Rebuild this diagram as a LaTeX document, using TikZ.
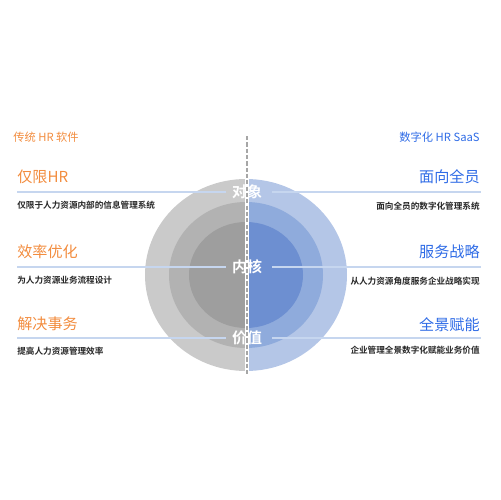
\documentclass[tikz,border=0pt]{standalone}
\usepackage{fontspec}
\setmainfont{Noto Sans CJK SC}
\newfontfamily\cjkbold{Noto Sans CJK SC Bold}
\usetikzlibrary{positioning}

\definecolor{hrorange}{HTML}{F28C3E}
\definecolor{saasblue}{HTML}{2E6BE6}
\definecolor{rulecol}{HTML}{C6D6EF}
\definecolor{grayA}{HTML}{CACACA}
\definecolor{grayB}{HTML}{B2B2B2}
\definecolor{grayC}{HTML}{9E9E9E}
\definecolor{blueA}{HTML}{B4C6E7}
\definecolor{blueB}{HTML}{8FABDC}
\definecolor{blueC}{HTML}{6D8FD1}

\tikzset{
  title/.style={font=\fontsize{6.4}{7}\selectfont, inner sep=0pt},
  head/.style={font=\fontsize{8.6}{10}\selectfont, inner sep=0pt},
  sub/.style={font=\cjkbold\fontsize{4.9}{6}\selectfont, inner sep=0pt, text=black!85},
  core/.style={font=\cjkbold\fontsize{8.5}{10}\selectfont, text=white, inner sep=0pt},
  rule/.style={draw=rulecol, line width=0.6pt}
}

\begin{document}
\begin{tikzpicture}[x=0.02cm,y=-0.02cm]
  \useasboundingbox (0,0) rectangle (500,500);
  % rings, left half
  \begin{scope}
    \clip (130,170) rectangle (246,380);
    \fill[grayA] (246,275) ellipse (101 and 96);
    \fill[grayB] (246,275) ellipse (77 and 73);
    \fill[grayC] (246,275) ellipse (57 and 53);
  \end{scope}
  % rings, right half
  \begin{scope}
    \clip (246,170) rectangle (360,380);
    \fill[blueA] (246,275) ellipse (101 and 96);
    \fill[blueB] (246,275) ellipse (77 and 73);
    \fill[blueC] (246,275) ellipse (57 and 53);
  \end{scope}

  % left column
  \node[title, text=hrorange, anchor=west] (ltitle) at (13,137) {传统 HR 软件};
  \node[head, text=hrorange, anchor=west] (lh1) at (17,177) {仅限HR};
  \node[sub, anchor=west] (ls1) at (17,205) {仅限于人力资源内部的信息管理系统};
  \node[head, text=hrorange, anchor=west] (lh2) at (17,252) {效率优化};
  \node[sub, anchor=west] (ls2) at (17,280) {为人力资源业务流程设计};
  \node[head, text=hrorange, anchor=west] (lh3) at (17,324) {解决事务};
  \node[sub, anchor=west] (ls3) at (17,351) {提高人力资源管理效率};

  % right column
  \node[title, text=saasblue, anchor=east] (rtitle) at (480,137) {数字化 HR SaaS};
  \node[head, text=saasblue, anchor=east] (rh1) at (480,177) {面向全员};
  \node[sub, anchor=east] (rs1) at (480,206) {面向全员的数字化管理系统};
  \node[head, text=saasblue, anchor=east] (rh2) at (480,252) {服务战略};
  \node[sub, anchor=east] (rs2) at (480,281) {从人力资源角度服务企业战略实现};
  \node[head, text=saasblue, anchor=east] (rh3) at (480,325) {全景赋能};
  \node[sub, anchor=east] (rs3) at (480,350) {企业管理全景数字化赋能业务价值};

  % core labels
  \node[core] (c1) at (247,192) {对象};
  \node[core] (c2) at (247,267) {内核};
  \node[core] (c3) at (247,338) {价值};

  % rules
  \coordinate (la1) at (17,192);  \coordinate (ra1) at (481,192);
  \coordinate (la2) at (17,267);  \coordinate (ra2) at (481,267);
  \coordinate (la3) at (17,338);  \coordinate (ra3) at (481,338);
  \draw[rule] (la1) -- ([xshift=-6*0.02cm]c1.west);
  \draw[rule] ([xshift=10*0.02cm]c1.east) -- (ra1);
  \draw[rule] (la2) -- ([xshift=-6*0.02cm]c2.west);
  \draw[rule] ([xshift=10*0.02cm]c2.east) -- (ra2);
  \draw[rule] (la3) -- ([xshift=-6*0.02cm]c3.west);
  \draw[rule] ([xshift=10*0.02cm]c3.east) -- (ra3);

  % divider
  \coordinate (dtop) at (247,136);
  \coordinate (dbot) at (247,374);
  \draw[white, line width=2.4pt] (dtop) -- (dbot);
  \draw[gray!70, line width=0.9pt, dash pattern=on 2.4pt off 1.2pt] (dtop) -- (dbot);
\end{tikzpicture}
\end{document}
